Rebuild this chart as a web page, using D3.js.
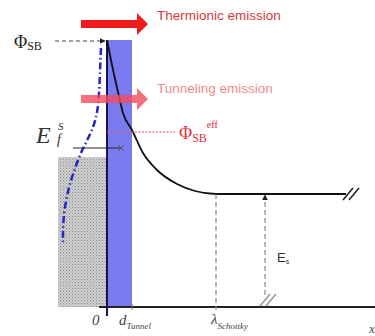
<!DOCTYPE html>
<html>
<head>
<meta charset="utf-8">
<script src="https://cdn.jsdelivr.net/npm/d3@7"></script>
<style>
  body { margin: 0; background: #fff; }
  svg { display: block; }
</style>
</head>
<body>
<div id="chart"></div>
<script>
// barrier profile: distance from the interface vs energy above the baseline
const barrierDist = [0, 5, 11, 16, 25, 36, 50, 70, 88, 109, 239];
const barrierE = [267, 242, 215, 194, 177, 154, 137, 123, 116, 113, 113];

// dash-dot occupancy profile on the semiconductor side
const occDist = [-6, -7, -8, -11, -17, -25, -31, -37, -41, -44, -44];
const occE = [259, 237, 207, 187, 172, 157, 142, 124, 107, 87, 62];

// levels
const phiSB = 267;
const phiEff = 175;
const fermiE = 159;
const surfaceTop = 150;
const dTunnel = 25;
const lambdaSchottky = 109;
const esDist = 158;
const esE = 113;

const width = 375, height = 336;
const x = d3.scaleLinear().domain([0, 268]).range([107, 375]);
const y = d3.scaleLinear().domain([0, 267]).range([307, 40]);

const svg = d3.select('#chart').append('svg')
  .attr('width', width)
  .attr('height', height);

const defs = svg.append('defs');
const pat = defs.append('pattern')
  .attr('id', 'stipple')
  .attr('width', 3).attr('height', 3)
  .attr('patternUnits', 'userSpaceOnUse');
pat.append('rect').attr('width', 3).attr('height', 3).attr('fill', '#cfcfcf');
pat.append('rect').attr('x', 0).attr('y', 0).attr('width', 1).attr('height', 1).attr('fill', '#8a8a8a');
pat.append('rect').attr('x', 1.5).attr('y', 1.5).attr('width', 1).attr('height', 1).attr('fill', '#a0a0a0');

const mk = (id, color, w, h) => {
  defs.append('marker')
    .attr('id', id)
    .attr('viewBox', '0 0 10 10')
    .attr('refX', 9).attr('refY', 5)
    .attr('markerWidth', w).attr('markerHeight', h)
    .attr('markerUnits', 'userSpaceOnUse')
    .attr('orient', 'auto')
    .append('path').attr('d', 'M0,0 L10,5 L0,10 z').attr('fill', color);
};
mk('arrDark', '#222', 6, 6);

// grey filled states
svg.append('rect')
  .attr('x', x(-49)).attr('y', y(surfaceTop))
  .attr('width', x(0) - x(-49)).attr('height', y(0) - y(surfaceTop))
  .attr('fill', 'url(#stipple)');

// tunnelling layer
svg.append('rect')
  .attr('x', x(0)).attr('y', y(phiSB))
  .attr('width', x(dTunnel) - x(0)).attr('height', y(0) - y(phiSB))
  .attr('fill', '#7b7bf0');

// baseline
svg.append('line')
  .attr('x1', 99).attr('x2', width)
  .attr('y1', y(0)).attr('y2', y(0))
  .attr('stroke', '#222').attr('stroke-width', 2);

// interface line
svg.append('line')
  .attr('x1', x(0)).attr('x2', x(0))
  .attr('y1', y(phiSB)).attr('y2', y(0) + 9)
  .attr('stroke', '#141450').attr('stroke-width', 2);

// d_Tunnel tick
svg.append('line')
  .attr('x1', x(dTunnel)).attr('x2', x(dTunnel))
  .attr('y1', y(0) - 3).attr('y2', y(0) + 3)
  .attr('stroke', '#777').attr('stroke-width', 1);

// barrier curve
const line = d3.line()
  .x((d, i) => x(barrierDist[i]))
  .y((d, i) => y(barrierE[i]))
  .curve(d3.curveMonotoneX);
svg.append('path')
  .datum(barrierDist)
  .attr('d', line)
  .attr('fill', 'none')
  .attr('stroke', '#111').attr('stroke-width', 1.8);

// occupancy dash-dot
const occLine = d3.line()
  .x((d, i) => x(occDist[i]))
  .y((d, i) => y(occE[i]))
  .curve(d3.curveBasis);
svg.append('path')
  .datum(occDist)
  .attr('d', occLine)
  .attr('fill', 'none')
  .attr('stroke', '#2424c8').attr('stroke-width', 2.5)
  .attr('stroke-dasharray', '7,3,1.5,3');

// Fermi level with cross
svg.append('line')
  .attr('x1', x(-34)).attr('x2', x(13))
  .attr('y1', y(fermiE)).attr('y2', y(fermiE))
  .attr('stroke', '#222').attr('stroke-width', 1.2);
const cx = x(14), cy = y(fermiE);
svg.append('path')
  .attr('d', `M${cx - 3},${cy - 3}L${cx + 3},${cy + 3}M${cx - 3},${cy + 3}L${cx + 3},${cy - 3}`)
  .attr('stroke', '#555').attr('stroke-width', 1);

// effective barrier dotted
svg.append('line')
  .attr('x1', x(0)).attr('x2', x(68))
  .attr('y1', y(phiEff)).attr('y2', y(phiEff))
  .attr('stroke', '#e0506a').attr('stroke-width', 1)
  .attr('stroke-dasharray', '2,1.5');

// Phi_SB dashed pointer
svg.append('line')
  .attr('x1', 55).attr('x2', x(-2))
  .attr('y1', y(phiSB) + 1).attr('y2', y(phiSB) + 1)
  .attr('stroke', '#444').attr('stroke-width', 1.2)
  .attr('stroke-dasharray', '4,3')
  .attr('marker-end', 'url(#arrDark)');

// lambda dashed
svg.append('line')
  .attr('x1', x(lambdaSchottky)).attr('x2', x(lambdaSchottky))
  .attr('y1', y(esE)).attr('y2', y(0) + 3)
  .attr('stroke', '#888').attr('stroke-width', 1.2)
  .attr('stroke-dasharray', '5,3');

// Es arrow
svg.append('line')
  .attr('x1', x(esDist)).attr('x2', x(esDist))
  .attr('y1', y(12)).attr('y2', y(esE) + 1)
  .attr('stroke', '#888').attr('stroke-width', 1.2)
  .attr('stroke-dasharray', '5,3')
  .attr('marker-end', 'url(#arrDark)');

// break marks
const brk = (bx, by, color) => {
  [-3, 3].forEach(o => {
    svg.append('line')
      .attr('x1', bx + o - 5).attr('y1', by + 6)
      .attr('x2', bx + o + 5).attr('y2', by - 6)
      .attr('stroke', color).attr('stroke-width', 1.6);
  });
};
brk(x(244), y(esE), '#222');
brk(x(esDist) + 3, y(7), '#999');

// emission arrows
const bigArrow = (yc, color, op) => {
  const x0 = 81, xb = 137, xt = 148;
  svg.append('path')
    .attr('d', `M${x0},${yc - 4}L${xb},${yc - 4}L${xb},${yc - 11}L${xt},${yc}L${xb},${yc + 11}L${xb},${yc + 4}L${x0},${yc + 4}Z`)
    .attr('fill', color).attr('fill-opacity', op);
};
bigArrow(24, '#ee1c1c', 1);
bigArrow(99, '#f24b5e', 0.8);

svg.append('text')
  .attr('x', 157).attr('y', 20)
  .attr('font-family', 'Liberation Sans, Arial, sans-serif')
  .attr('font-size', 13.5)
  .attr('fill', '#d83a3a')
  .text('Thermionic emission');

svg.append('text')
  .attr('x', 157).attr('y', 93)
  .attr('font-family', 'Liberation Sans, Arial, sans-serif')
  .attr('font-size', 13.5)
  .attr('fill', '#f08a8a')
  .text('Tunneling emission');

// Phi_SB label
const phiLabel = svg.append('text')
  .attr('x', 14).attr('y', 48)
  .attr('font-family', 'Liberation Serif, serif')
  .attr('fill', '#222');
phiLabel.append('tspan').attr('font-size', 18).text('Φ');
phiLabel.append('tspan').attr('font-size', 12).attr('dy', 2).text('SB');

// Phi_SB eff label
const effLabel = svg.append('text')
  .attr('x', 179).attr('y', 139)
  .attr('font-family', 'Liberation Serif, serif')
  .attr('fill', '#e03045');
effLabel.append('tspan').attr('font-size', 18).text('Φ');
effLabel.append('tspan').attr('font-size', 12).attr('dy', 3).text('SB');
effLabel.append('tspan').attr('font-size', 10).attr('dy', -14).text('eff');

// E_f^S label
svg.append('text')
  .attr('x', 36).attr('y', 143)
  .attr('font-family', 'Liberation Serif, serif')
  .attr('font-style', 'italic')
  .attr('font-size', 24).attr('fill', '#333')
  .text('E');
svg.append('text')
  .attr('x', 58).attr('y', 130)
  .attr('font-family', 'Liberation Serif, serif')
  .attr('font-style', 'italic')
  .attr('font-size', 11).attr('fill', '#333')
  .text('S');
svg.append('text')
  .attr('x', 57).attr('y', 144)
  .attr('font-family', 'Liberation Serif, serif')
  .attr('font-style', 'italic')
  .attr('font-size', 14).attr('fill', '#333')
  .text('f');

// axis labels
svg.append('text')
  .attr('x', 92).attr('y', 325)
  .attr('font-family', 'Liberation Serif, serif')
  .attr('font-style', 'italic')
  .attr('font-size', 15).attr('fill', '#444')
  .text('0');

const dLab = svg.append('text')
  .attr('x', 119).attr('y', 325)
  .attr('font-family', 'Liberation Serif, serif')
  .attr('font-style', 'italic')
  .attr('fill', '#444');
dLab.append('tspan').attr('font-size', 15).text('d');
dLab.append('tspan').attr('font-size', 9).attr('dy', 4).text('Tunnel');

const lLab = svg.append('text')
  .attr('x', 211).attr('y', 324)
  .attr('font-family', 'Liberation Serif, serif')
  .attr('font-style', 'italic')
  .attr('fill', '#444');
lLab.append('tspan').attr('font-size', 15).text('λ');
lLab.append('tspan').attr('font-size', 9).attr('dy', 5).text('Schottky');

const esLab = svg.append('text')
  .attr('x', 277).attr('y', 262)
  .attr('font-family', 'Liberation Sans, Arial, sans-serif')
  .attr('fill', '#333');
esLab.append('tspan').attr('font-size', 13).text('E');
esLab.append('tspan').attr('font-size', 7).attr('dy', 2).text('s');

svg.append('text')
  .attr('x', 369).attr('y', 333)
  .attr('font-family', 'Liberation Serif, serif')
  .attr('font-style', 'italic')
  .attr('font-size', 13).attr('fill', '#444')
  .text('x');
</script>
</body>
</html>
